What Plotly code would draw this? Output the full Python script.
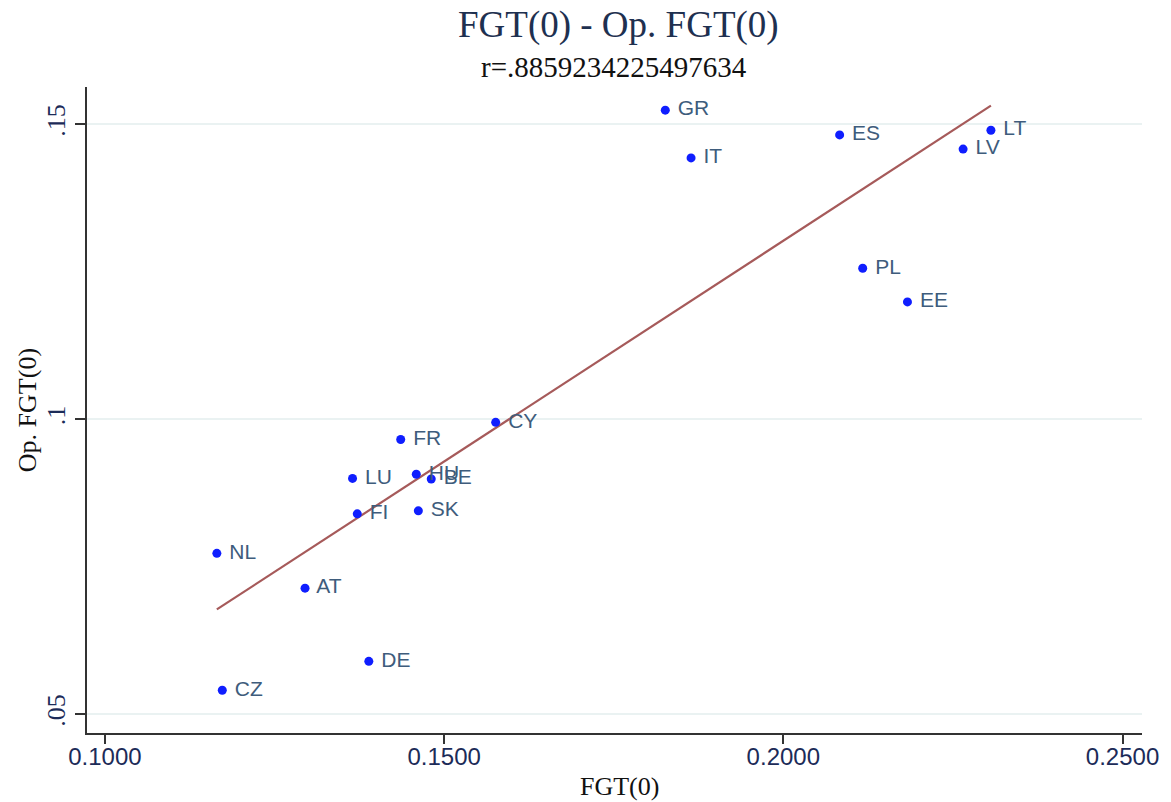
import numpy as np
import plotly.graph_objects as go

countries = ["GR", "ES", "IT", "LT", "LV", "PL", "EE", "CY", "FR", "HU",
             "BE", "LU", "SK", "FI", "NL", "AT", "DE", "CZ"]
fgt0 = [0.1826, 0.2083, 0.1864, 0.2306, 0.2265, 0.2117, 0.2183, 0.1576, 0.1436, 0.1459,
        0.1481, 0.1365, 0.1462, 0.1372, 0.1165, 0.1295, 0.1389, 0.1173]
op_fgt0 = [0.1524, 0.1482, 0.1443, 0.1490, 0.1458, 0.1256, 0.1199, 0.0995, 0.0966, 0.0907,
           0.0899, 0.0900, 0.0845, 0.0840, 0.0773, 0.0714, 0.0590, 0.0541]

x_ticks = [0.10, 0.15, 0.20, 0.25]
x_ticklabels = ["0.1000", "0.1500", "0.2000", "0.2500"]
y_ticks = [0.05, 0.10, 0.15]
y_ticklabels = [".05", ".1", ".15"]

title = "FGT(0) - Op. FGT(0)"
subtitle = "r=.8859234225497634"

xa = np.array(fgt0)
ya = np.array(op_fgt0)
slope, intercept = np.polyfit(xa, ya, 1)
fit_x = np.array([xa.min(), xa.max()])
fit_y = intercept + slope * fit_x

W, H = 1171, 802
L, R, T, B = 87, 26, 87, 69
pw = W - L - R
ph = H - T - B

serif = "Liberation Serif, Times New Roman, serif"
sans = "Liberation Sans, Arial, sans-serif"

fig = go.Figure()
fig.add_trace(go.Scatter(
    x=fit_x, y=fit_y, mode="lines",
    line=dict(color="#a65a5a", width=2.2),
    hoverinfo="skip", showlegend=False))
fig.add_trace(go.Scatter(
    x=fgt0, y=op_fgt0, mode="markers+text",
    text=countries, texttemplate=" %{text}", textposition="middle right",
    textfont=dict(family=sans, size=21, color="#3e5c7c"),
    marker=dict(color="#0f1eff", size=9),
    showlegend=False))

fig.update_layout(
    width=W, height=H,
    margin=dict(l=L, r=R, t=T, b=B),
    plot_bgcolor="white", paper_bgcolor="white",
    xaxis=dict(range=[0.09736, 0.25287], tickvals=x_ticks, ticktext=x_ticklabels,
               showgrid=False, zeroline=False, showline=True, linecolor="#333333",
               linewidth=2, ticks="outside", ticklen=9, tickwidth=2, tickcolor="#333333",
               ticklabelstandoff=-8,
               tickfont=dict(family=sans, size=24, color="#1c2b58")),
    yaxis=dict(range=[0.04686, 0.15632], tickvals=y_ticks, ticktext=y_ticklabels,
               showgrid=True, gridcolor="#eaf2f2", gridwidth=1.5, zeroline=False,
               showline=True, linecolor="#333333", linewidth=2, ticks="outside",
               ticklen=10, tickwidth=2, tickcolor="#333333", tickangle=-90,
               tickfont=dict(family=serif, size=26, color="#1c2b58")),
    annotations=[
        dict(text=title, x=(620 - L) / pw, y=1 + (T - 25) / ph, xref="paper", yref="paper",
             showarrow=False, font=dict(family=serif, size=37, color="#1e3050"),
             xanchor="center", yanchor="middle"),
        dict(text=subtitle, x=(615 - L) / pw, y=1 + (T - 67) / ph, xref="paper", yref="paper",
             showarrow=False, font=dict(family=serif, size=29, color="#111111"),
             xanchor="center", yanchor="middle"),
        dict(text="FGT(0)", x=(621 - L) / pw, y=-(786 - (H - B)) / ph, xref="paper", yref="paper",
             showarrow=False, font=dict(family=serif, size=26, color="#111111"),
             xanchor="center", yanchor="middle"),
        dict(text="Op. FGT(0)", x=-(L - 27) / pw, y=0.5, xref="paper", yref="paper",
             showarrow=False, font=dict(family=serif, size=26, color="#111111"),
             textangle=-90, xanchor="center", yanchor="middle"),
    ],
)

fig.write_html("out.html", config={"displayModeBar": False},
               post_script="document.body.style.margin='0';document.body.style.overflow='hidden';")
